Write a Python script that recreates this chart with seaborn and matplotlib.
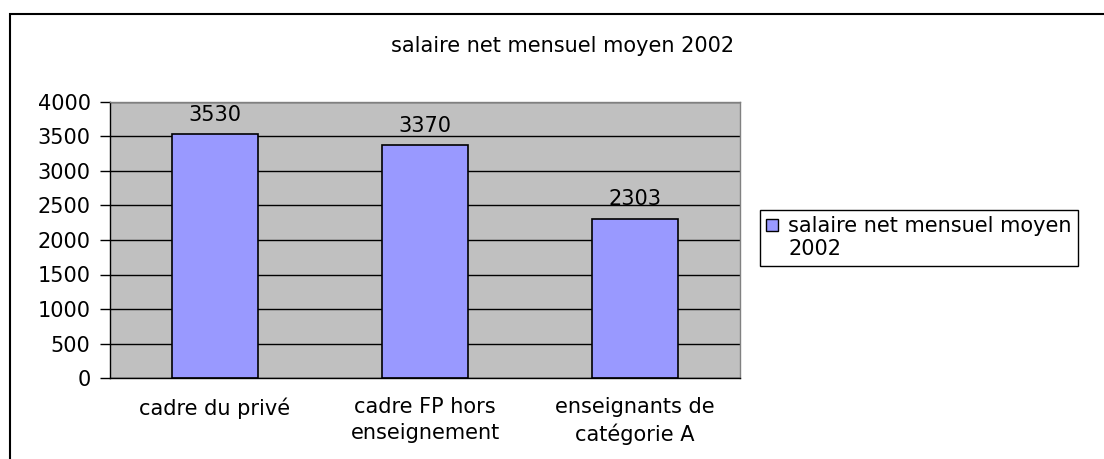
import matplotlib
matplotlib.use("Agg")
import matplotlib.pyplot as plt
import seaborn as sns
import pandas as pd
from matplotlib.patches import Patch, Rectangle

# chart data
categories = ["cadre du privé", "cadre FP hors\nenseignement", "enseignants de\ncatégorie A"]
salaries = [3530, 3370, 2303]
series_name = "salaire net mensuel moyen 2002"
y_ticks = [0, 500, 1000, 1500, 2000, 2500, 3000, 3500, 4000]

BAR_COLOR = "#9999FF"
PLOT_BG = "#C0C0C0"
FS = 15

sns.set_style("white")
plt.rcParams["font.family"] = ["DejaVu Sans"]
plt.rcParams["font.size"] = FS
plt.rcParams["text.color"] = "black"
plt.rcParams["xtick.color"] = "black"
plt.rcParams["ytick.color"] = "black"
plt.rcParams["xtick.labelcolor"] = "black"
plt.rcParams["ytick.labelcolor"] = "black"

W, H = 1104, 459
fig = plt.figure(figsize=(W / 100, H / 100), dpi=100)

# outer chart border (cut off at right and bottom like the screenshot)
fig.patches.append(Rectangle((10 / W, -0.05), 1.2, 1 - 14 / H + 0.05,
                             transform=fig.transFigure, fill=False,
                             edgecolor="black", linewidth=1.5))

ax = fig.add_axes([110 / W, 1 - 378 / H, 630 / W, 276 / H])
ax.set_facecolor(PLOT_BG)

df = pd.DataFrame({"categorie": categories, "salaire": salaries})
sns.barplot(data=df, x="categorie", y="salaire", color=BAR_COLOR,
            edgecolor="black", linewidth=1.2, width=0.41, saturation=1, ax=ax)

ax.bar_label(ax.containers[0], labels=[str(v) for v in salaries], padding=7,
             fontsize=FS, color="black")

ax.set_ylim(0, 4000)
ax.set_xlim(-0.5, len(categories) - 0.5)
ax.set_yticks(y_ticks)
ax.yaxis.grid(True, color="black", linewidth=1)
ax.set_axisbelow(True)

ax.set_xlabel("")
ax.set_ylabel("")

# tick marks at category boundaries, labels at the centers
ax.set_xticks([i - 0.5 for i in range(len(categories) + 1)], minor=True)
ax.tick_params(axis="x", which="major", length=0, pad=14)
ax.tick_params(axis="x", which="minor", length=7, width=1, color="black", direction="out")
ax.tick_params(axis="y", length=7, width=1, color="black", direction="out", pad=7, left=True)
plt.setp(ax.get_xticklabels(), linespacing=1.35)

for side in ["top", "right"]:
    ax.spines[side].set_color("#808080")
    ax.spines[side].set_linewidth(1)
for side in ["left", "bottom"]:
    ax.spines[side].set_color("black")
    ax.spines[side].set_linewidth(1)

fig.text(563 / W, 1 - 46 / H, series_name, ha="center", va="center", fontsize=FS,
         color="black")

name_parts = series_name.rsplit(" ", 1)
handles = [Patch(facecolor=BAR_COLOR, edgecolor="black", linewidth=1),
           Patch(visible=False)]
leg = fig.legend(handles, name_parts, loc="upper left",
                 bbox_to_anchor=(760 / W, 1 - 210 / H), bbox_transform=fig.transFigure,
                 frameon=True, fancybox=False, edgecolor="black", framealpha=1,
                 borderaxespad=0, borderpad=0.3, handlelength=0.55, handleheight=0.55,
                 handletextpad=0.5, labelspacing=0.15, fontsize=FS, labelcolor="black")
leg.get_frame().set_linewidth(1)

fig.savefig("out.png", dpi=100, facecolor="white")
